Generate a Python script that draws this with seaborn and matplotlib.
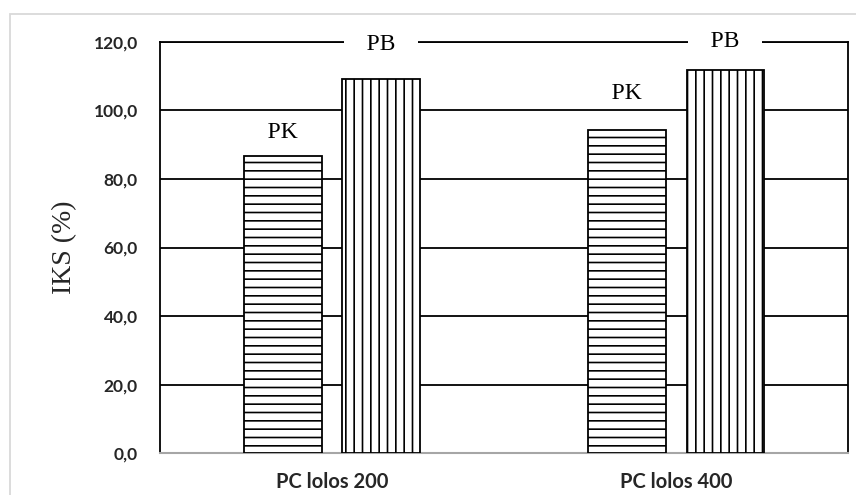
import pandas as pd
import seaborn as sns
import matplotlib
matplotlib.use('Agg')
import matplotlib.pyplot as plt
from matplotlib.patches import Rectangle

# Data
groups = ["PC lolos 200", "PC lolos 400"]
series = ["PK", "PB"]
pk_values = [86.6, 94.3]
pb_values = [109.2, 111.8]
y_ticks = [0, 20, 40, 60, 80, 100, 120]
y_tick_labels = ["0,0", "20,0", "40,0", "60,0", "80,0", "100,0", "120,0"]
y_label = "IKS (%)"

df = pd.DataFrame({
    "group": groups * 2,
    "series": [series[0]] * len(groups) + [series[1]] * len(groups),
    "value": pk_values + pb_values,
})

sns.set_theme(style="white")
plt.rcParams['hatch.linewidth'] = 1.2
plt.rcParams['hatch.color'] = 'black'

fig = plt.figure(figsize=(8.56, 4.95), dpi=100)
ax = fig.add_axes([0.1869, 0.0848, 0.8038, 0.8304])
ax.patch.set_alpha(0)

sns.barplot(data=df, x="group", y="value", hue="series", hue_order=series,
            palette=["white", "white"], edgecolor="black", linewidth=1.3,
            width=0.57, gap=0.214, legend=False, ax=ax, zorder=3)

hatches = {"PK": "--", "PB": "||"}
# label offsets above the bar tops (points), per bar as in the reference
label_offsets = {"PK": [17, 26], "PB": [25, 20.5]}
pad = "\u00a0" * 3
for name, container in zip(series, ax.containers):
    for i, bar in enumerate(container):
        bar.set_hatch(hatches[name])
        x = bar.get_x() + bar.get_width() / 2
        ax.annotate(pad + name + pad, (x, bar.get_height()),
                    xytext=(0, label_offsets[name][i]),
                    textcoords="offset points", ha="center", va="center",
                    fontsize=17, family="Liberation Serif", color="black",
                    bbox=dict(boxstyle="square,pad=0.2", fc="white", ec="none"),
                    annotation_clip=False, zorder=5)

ax.set_ylim(0, 120)
ax.set_xlim(-0.5, 1.5)
ax.set_yticks(y_ticks, y_tick_labels)
ax.yaxis.grid(True, color="black", linewidth=1.3, zorder=0)
ax.set_axisbelow(True)
ax.tick_params(axis="y", length=0, pad=16, labelsize=12.5)
ax.tick_params(axis="x", length=0, pad=14, labelsize=14.5)
for lab in ax.get_xticklabels() + ax.get_yticklabels():
    lab.set_fontweight("bold")
    lab.set_family("Lato")
ax.set_xlabel("")
ax.set_ylabel(y_label, family="Liberation Serif", fontsize=20, labelpad=12)

for side in ["left", "right", "top"]:
    ax.spines[side].set_color("black")
    ax.spines[side].set_linewidth(1.3)
ax.spines["bottom"].set_color("#a6a6a6")
ax.spines["bottom"].set_linewidth(1.5)

# light gray chart-area border
fig.add_artist(Rectangle((10 / 856, -0.1), 1.2, 1.1 - 14 / 495, transform=fig.transFigure,
                         fill=False, edgecolor="#d9d9d9", linewidth=1.3, zorder=-1))

fig.savefig("out.png", dpi=100)
